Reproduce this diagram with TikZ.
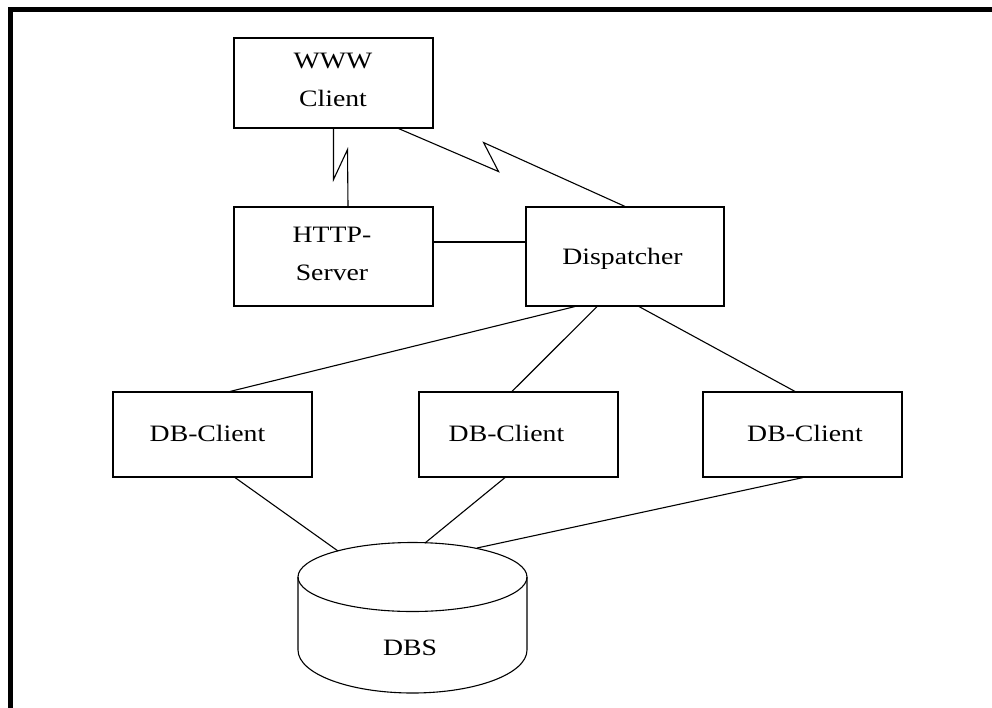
\documentclass[tikz,border=0pt]{standalone}
\usepackage{fontspec}
\usepackage{graphicx}
\setmainfont{Liberation Serif}
\usetikzlibrary{calc}
\tikzset{
  box/.style={draw, line width=1.1pt, rectangle, inner sep=0pt, minimum width=199pt},
  lbl/.style={inner sep=0pt, anchor=base, font=\fontsize{23.5}{38}\selectfont},
  wire/.style={line width=1.1pt, line join=miter},
  frameline/.style={line width=5pt}
}
\newcommand{\widetext}[1]{\scalebox{1.18}[1]{#1}}
\newcommand{\twolines}[2]{\scalebox{1.18}[1]{\begin{tabular}[t]{@{}c@{}}#1\\#2\end{tabular}}}
\begin{document}
\begin{tikzpicture}[x=1pt, y=-1pt]
  \useasboundingbox (0,0) rectangle (992,707);
  \clip (0,0) rectangle (992,707);
  \fill[white] (0,0) rectangle (992,707);

  % outer frame (top and left edges)
  \draw[frameline] (10.5,720) -- (10.5,9.5) -- (1000,9.5);

  % boxes
  \node[box, minimum height=90pt] (www)  at (333.5,83)    {};
  \node[box, minimum height=99pt] (http) at (333.5,256.5) {};
  \node[box, minimum height=99pt, minimum width=198pt] (disp) at (625,256.5) {};
  \node[box, minimum height=85pt] (db1) at (212.5,434.5) {};
  \node[box, minimum height=85pt] (db2) at (518.5,434.5) {};
  \node[box, minimum height=85pt] (db3) at (802.5,434.5) {};

  % labels
  \node[lbl] (wwwt)  at (333,68)    {\twolines{WWW}{Client}};
  \node[lbl] (httpt) at (332,242)   {\twolines{HTTP-}{Server}};
  \node[lbl] (dispt) at (622.5,264) {\widetext{Dispatcher}};
  \node[lbl] (db1t)  at (207.5,441) {\widetext{DB-Client}};
  \node[lbl] (db2t)  at (506.5,441) {\widetext{DB-Client}};
  \node[lbl] (db3t)  at (805,441)   {\widetext{DB-Client}};

  % database cylinder
  \coordinate (dbs) at (412.5,577);
  \draw[wire] (dbs) ellipse[x radius=114.5, y radius=34.5];
  \draw[wire] ($(dbs)+(-114.5,0)$) -- ++(0,73)
    arc[start angle=180, end angle=0, x radius=114.5, y radius=43] -- ($(dbs)+(114.5,0)$);
  \node[lbl] (dbst) at (410,655) {\widetext{DBS}};
  \coordinate (dbsA) at (338,551);
  \coordinate (dbsB) at (425,543);
  \coordinate (dbsC) at (477,548);

  % zigzag links from the WWW client
  \draw[wire] (www.south) -- ++(0,51) -- ++(14,-30) -- ($(http.north)+(14.5,0)$);
  \draw[wire] ($(www.south east)+(-35,0)$) -- ++(100,43) -- ++(-15,-29) -- (disp.north);

  % HTTP server to dispatcher
  \draw[wire] ($(http.east)+(0,-14.5)$) -- ($(disp.west)+(0,-14.5)$);

  % dispatcher to DB clients
  \draw[wire] ($(disp.south)+(-50,0)$) -- ($(db1.north)+(17.5,0)$);
  \draw[wire] ($(disp.south)+(-28,0)$) -- ($(db2.north)+(-6.5,0)$);
  \draw[wire] ($(disp.south)+(14,0)$)  -- ($(db3.north)+(-7.5,0)$);

  % DB clients to the database
  \draw[wire] ($(db1.south)+(22.5,0)$)  -- (dbsA);
  \draw[wire] ($(db2.south)+(-13.5,0)$) -- (dbsB);
  \draw[wire] ($(db3.south)+(0.5,0)$)   -- (dbsC);
\end{tikzpicture}
\end{document}
